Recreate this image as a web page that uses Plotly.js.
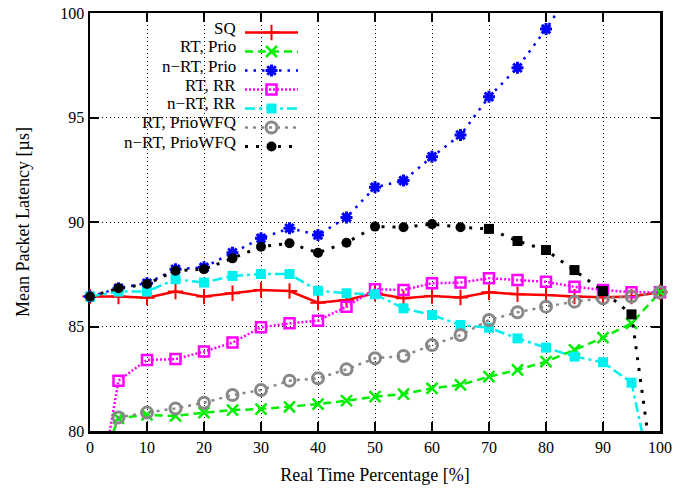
<!DOCTYPE html>
<html>
<head>
<meta charset="utf-8">
<script src="https://cdn.plot.ly/plotly-3.0.1.min.js"></script>
<style>html,body{margin:0;padding:0;background:#fff;}#chart{width:692px;height:489px;}</style>
</head>
<body>
<div id="chart"></div>
<script>
// ---- data ----
const xPct = [0,5,10,15,20,25,30,35,40,45,50,55,60,65,70,75,80,85,90,95,100];
const seriesNames = ["SQ","RT, Prio","n\u2212RT, Prio","RT, RR","n\u2212RT, RR","RT, PrioWFQ","n\u2212RT, PrioWFQ"];
const sq        = [86.43,86.43,86.38,86.67,86.43,86.59,86.75,86.70,86.14,86.27,86.59,86.35,86.46,86.39,86.64,86.54,86.51,86.43,86.40,86.43,86.64];
const rtPrio    = [77.0,80.61,80.77,80.72,80.88,81.00,81.05,81.16,81.29,81.45,81.64,81.77,82.04,82.21,82.60,82.92,83.32,83.88,84.47,85.15,86.64];
const nrtPrio   = [86.43,86.83,87.07,87.74,87.83,88.53,89.22,89.70,89.38,90.22,91.66,91.98,93.12,94.16,95.99,97.38,99.23,101.3,103.5,106.5,112.0];
const rtRR      = [74.5,82.41,83.40,83.44,83.80,84.23,84.96,85.15,85.28,85.95,86.78,86.75,87.07,87.10,87.31,87.22,87.14,86.90,86.75,86.64,86.64];
const nrtRR     = [86.43,86.67,86.67,87.26,87.10,87.42,87.51,87.51,86.71,86.59,86.54,85.87,85.55,85.07,84.94,84.43,83.99,83.56,83.29,82.31,75.9];
const rtWFQ     = [77.0,80.65,80.88,81.08,81.35,81.72,81.96,82.41,82.52,82.95,83.48,83.59,84.11,84.59,85.31,85.68,85.95,86.19,86.35,86.43,86.64];
const nrtWFQ    = [86.43,86.83,87.03,87.67,87.74,88.26,88.82,88.98,88.53,89.01,89.78,89.75,89.90,89.75,89.67,89.09,88.66,87.70,86.70,85.58,75.6];
const xTicks = [0,10,20,30,40,50,60,70,80,90,100];
const yTicks = [80,85,90,95,100];

// ---- styles ----
const values = [sq, rtPrio, nrtPrio, rtRR, nrtRR, rtWFQ, nrtWFQ];
const styles = [
  {color:'#ff0000', dash:'solid',            lw:2.5, symbol:'cross-thin-open', size:11, mlw:2},
  {color:'#00ee00', dash:'8px,5px',          lw:2.5, symbol:'x-thin-open',     size:11, mlw:2.5},
  {color:'#0000ff', dash:'2.5px,6px',        lw:2.5, symbol:'asterisk-open',   size:10, mlw:3},
  {color:'#ff00ff', dash:'2px,2px',          lw:2.5, symbol:'square-open',     size:10, mlw:2.5},
  {color:'#00f0f0', dash:'10px,4px,3px,4px', lw:2.5, symbol:'square',          size:10, mlw:0},
  {color:'#888888', dash:'3px,5px',          lw:2.5, symbol:'circle-open',     size:11, mlw:3},
  {color:'#000000', dash:'3px,8px',          lw:3,   symbol:'circle',          size:10, mlw:0}
];

const traces = [];
values.forEach((v, i) => {
  const s = styles[i];
  let sym = s.symbol;
  if (i === 6) sym = xPct.map(x => x >= 70 ? 'square' : 'circle');
  traces.push({
    type:'scatter', mode:'lines+markers', x:xPct, y:v, name:seriesNames[i],
    showlegend:false, cliponaxis:false,
    line:{color:s.color, width:s.lw, dash:s.dash},
    marker:{symbol:sym, size:s.size, color:s.color, line:{color:s.color, width:s.mlw}}
  });
});
// legend samples (names drawn as right-aligned annotations, like the reference)
values.forEach((v, i) => {
  const s = styles[i];
  traces.push({
    type:'scatter', mode:'lines+markers', x:[null], y:[null], name:' ',
    showlegend:true, hoverinfo:'skip',
    line:{color:s.color, width:s.lw, dash:s.dash},
    marker:{symbol:s.symbol, size:s.size, color:s.color, line:{color:s.color, width:s.mlw}}
  });
});

const L = 90, R = 32, T = 13, B = 58, W = 692, H = 489;
const plotH = H - T - B, plotW = W - L - R;
const rowY0 = 28, rowGap = 19;
const annotations = seriesNames.map((n, i) => ({
  xref:'paper', yref:'paper', x:(238 - L)/plotW, y:1 - (rowY0 + i*rowGap - T)/plotH,
  xanchor:'right', yanchor:'middle', text:n, showarrow:false,
  font:{family:'Liberation Serif', size:17, color:'#000'}
}));

const axisCommon = {
  showline:true, linecolor:'#000', linewidth:2.5, mirror:'allticks',
  ticks:'inside', ticklen:9, tickwidth:2, tickcolor:'#000',
  showgrid:true, gridcolor:'#000', gridwidth:1, griddash:'1px,3px',
  zeroline:false, tickfont:{family:'Liberation Serif', size:16, color:'#000'},
  layer:'below traces'
};

const layout = {
  width:W, height:H, margin:{l:L, r:R, t:T, b:B},
  paper_bgcolor:'#fff', plot_bgcolor:'#fff',
  font:{family:'Liberation Serif', size:16, color:'#000'},
  xaxis:Object.assign({}, axisCommon, {range:[0,100], tickvals:xTicks,
    title:{text:'Real Time Percentage [%]', font:{family:'Liberation Serif', size:18}, standoff:14}}),
  yaxis:Object.assign({}, axisCommon, {range:[80,100], tickvals:yTicks,
    title:{text:'Mean Packet Latency [\u00b5s]', font:{family:'Liberation Serif', size:18}, standoff:26}}),
  legend:{x:(240 - L)/plotW, xanchor:'left', y:1 - (rowY0 - 10 - T)/plotH, yanchor:'top',
    bgcolor:'rgba(0,0,0,0)', borderwidth:0, itemwidth:53, font:{size:10}, tracegroupgap:0},
  annotations:annotations,
  showlegend:true
};

Plotly.newPlot('chart', traces, layout, {staticPlot:true});
</script>
</body>
</html>
